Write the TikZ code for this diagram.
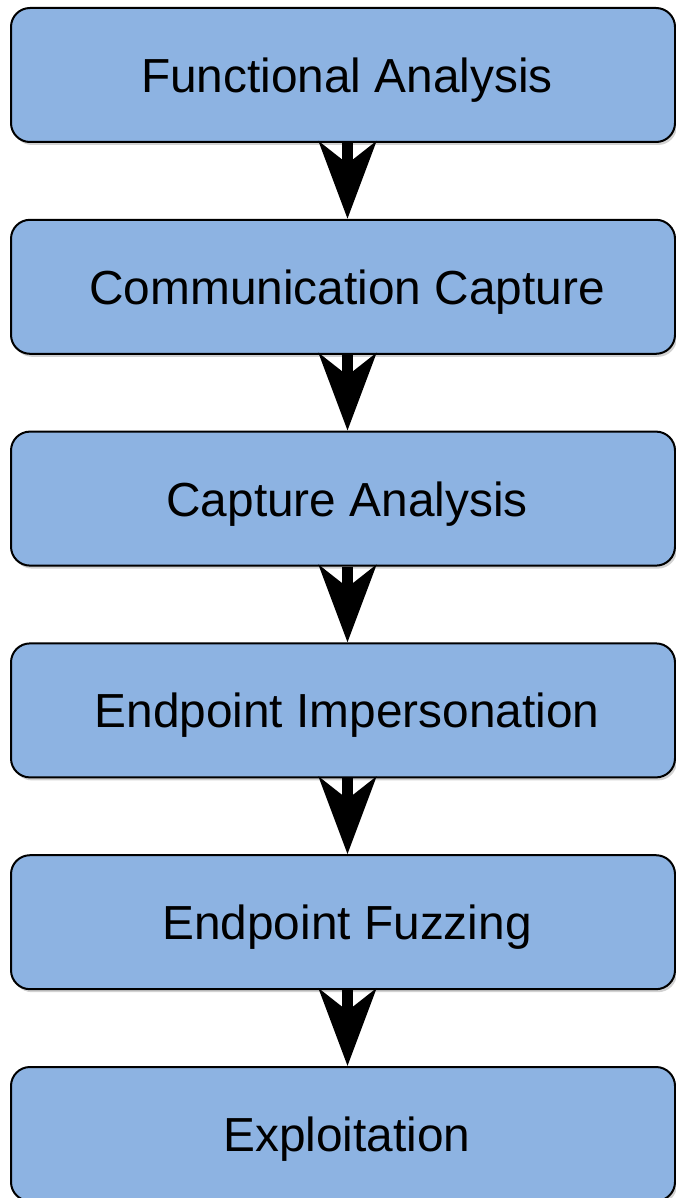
\documentclass[tikz,border=0pt]{standalone}
\usepackage{fontspec}
\setmainfont{Liberation Sans}
\usetikzlibrary{arrows.meta,shadows}
\definecolor{boxfill}{HTML}{8DB3E2}
\tikzset{
  box/.style={draw=black, line width=2pt, fill=boxfill, rounded corners=19pt,
    minimum width=664pt, minimum height=134pt, inner sep=0pt,
    text height=35pt, text depth=0pt,
    font=\fontsize{47.8}{56}\selectfont, text=black,
    execute at begin node={\hspace*{8pt}},
    drop shadow={opacity=0.35, shadow xshift=2pt, shadow yshift=-3pt}},
  conn/.style={line width=11pt, draw=black,
    -{Stealth[length=77pt, width=57pt, inset=22pt]}}
}
\begin{document}
\begin{tikzpicture}[x=1pt,y=-1pt]
\fill[white] (0,0) rectangle (676,1198);
\useasboundingbox (0,0) rectangle (676,1198);
\node[box] (b1) at (343,75) {Functional Analysis};
\node[box] (b2) at (343,286.8) {Communication Capture};
\node[box] (b3) at (343,498.6) {Capture Analysis};
\node[box] (b4) at (343,710.4) {Endpoint Impersonation};
\node[box] (b5) at (343,922.2) {Endpoint Fuzzing};
\node[box] (b6) at (343,1134) {Exploitation};
\foreach \a/\b in {b1/b2,b2/b3,b3/b4,b4/b5,b5/b6}
  \draw[conn] ([xshift=4.5pt]\a.south) -- ([xshift=4.5pt]\b.north);
\end{tikzpicture}
\end{document}
